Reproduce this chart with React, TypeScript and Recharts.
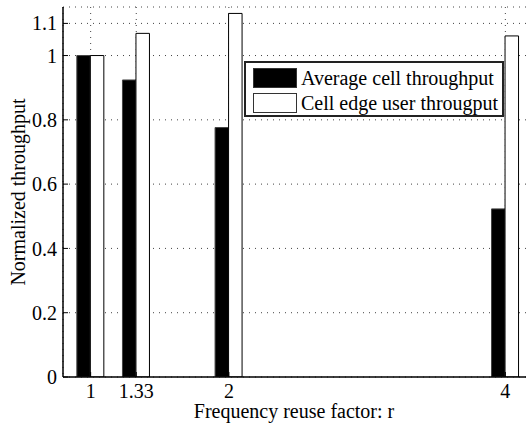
import { BarChart, Bar, XAxis, YAxis, CartesianGrid, Legend } from 'recharts';

const reuseFactors = [1, 1.33, 2, 4];
const avgCellThroughput = [1.0, 0.924, 0.776, 0.523];
const cellEdgeThroughput = [1.0, 1.069, 1.131, 1.061];
const yTicks = [0, 0.2, 0.4, 0.6, 0.8, 1, 1.1];

const FONT = 'Liberation Serif';

const rows = reuseFactors.map((r, i) => ({ r, avg: avgCellThroughput[i], edge: cellEdgeThroughput[i] }));

function LegendBox() {
  const items = [
    { label: 'Average cell throughput', fill: '#000' },
    { label: 'Cell edge user througput', fill: '#fff' },
  ];
  return (
    <div style={{ width: 260, height: 56, boxSizing: 'border-box', border: '2px solid #222', background: '#fff', padding: '3px 0 0 7px', fontFamily: FONT, fontSize: 20, color: '#000' }}>
      {items.map((it) => (
        <div key={it.label} style={{ display: 'flex', alignItems: 'center', height: 24.5 }}>
          <span style={{ display: 'inline-block', width: 44, height: 20, boxSizing: 'border-box', background: it.fill, border: '1px solid #333', marginRight: 4 }} />
          <span style={{ lineHeight: '20px', whiteSpace: 'nowrap' }}>{it.label}</span>
        </div>
      ))}
    </div>
  );
}

export default function App() {
  const tickStyle = { fontFamily: FONT, fontSize: 20, fill: '#000' };
  return (
    <div style={{ position: 'absolute', left: 0, top: 0, width: 526, height: 424, overflow: 'hidden', background: '#fff' }}>
      <BarChart width={533} height={424} data={rows} margin={{ top: 7, right: 0, left: 0, bottom: 0 }} barGap={0}>
        <CartesianGrid stroke="#444" strokeDasharray="1 5" />
        <XAxis
          dataKey="r"
          type="number"
          domain={[0.8, 4.2]}
          ticks={reuseFactors}
          allowDataOverflow
          height={47}
          axisLine={{ stroke: '#000', strokeWidth: 1.5 }}
          tickLine={{ stroke: '#000' }}
          tickSize={-5}
          tickMargin={12}
          tick={tickStyle}
          label={({ viewBox }: any) => (
            <text x={viewBox.x + viewBox.width / 2 - 4} y={418} textAnchor="middle" fontFamily={FONT} fontSize={20} fill="#000">
              Frequency reuse factor: r
            </text>
          )}
        />
        <XAxis
          xAxisId="top"
          orientation="top"
          type="number"
          domain={[0.8, 4.2]}
          ticks={reuseFactors}
          allowDataOverflow
          height={0}
          axisLine={{ stroke: '#000', strokeWidth: 1.5 }}
          tickLine={{ stroke: '#000' }}
          tickSize={-5}
          tickFormatter={() => ''}
        />
        <YAxis
          type="number"
          domain={[0, 1.151]}
          ticks={yTicks}
          allowDataOverflow
          width={63}
          axisLine={{ stroke: '#000', strokeWidth: 1.5 }}
          tickLine={{ stroke: '#000' }}
          tickSize={-5}
          tickMargin={11}
          tick={tickStyle}
          label={({ viewBox }: any) => {
            const cx = 18;
            const cy = viewBox.y + viewBox.height / 2;
            return (
              <text x={cx} y={cy} transform={`rotate(-90 ${cx} ${cy})`} textAnchor="middle" dominantBaseline="central" fontFamily={FONT} fontSize={20} fill="#000">
                Normalized throughput
              </text>
            );
          }}
        />
        <Legend
          layout="vertical"
          align="center"
          verticalAlign="middle"
          content={() => <LegendBox />}
          wrapperStyle={{ left: 244, top: 61, width: 260, height: 56 }}
        />
        <Bar dataKey="avg" name="Average cell throughput" fill="#000" stroke="#444" strokeWidth={1} barSize={13.5} isAnimationActive={false} />
        <Bar dataKey="edge" name="Cell edge user througput" fill="#fff" stroke="#000" strokeWidth={1} barSize={13.5} isAnimationActive={false} />
      </BarChart>
    </div>
  );
}
